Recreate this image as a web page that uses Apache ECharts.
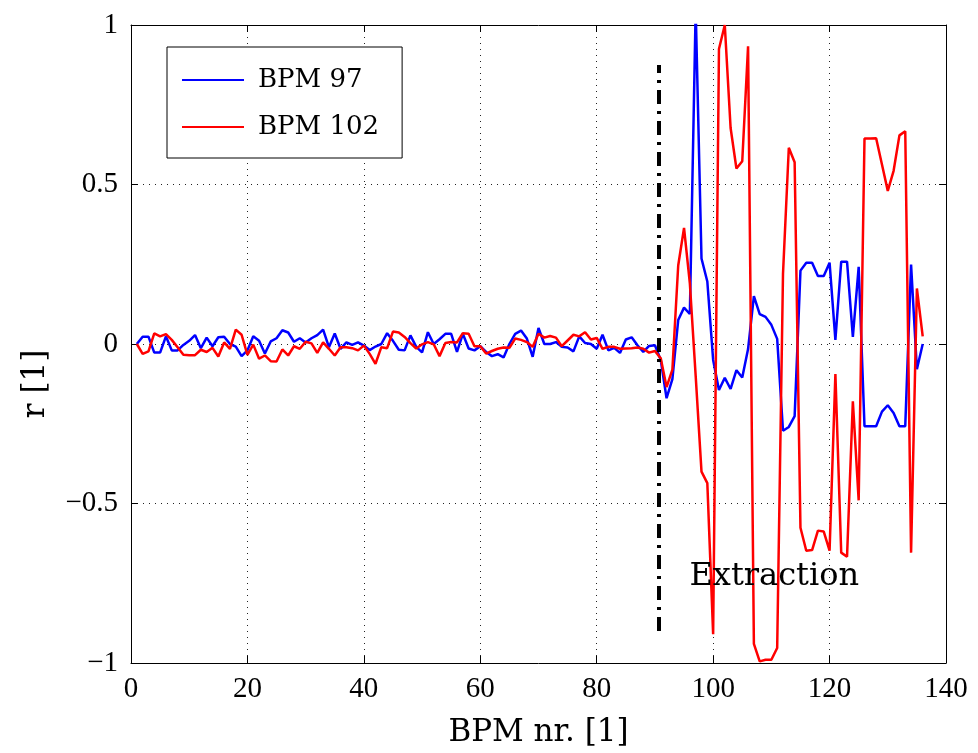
<!DOCTYPE html>
<html>
<head>
<meta charset="utf-8">
<script src="https://cdn.jsdelivr.net/npm/echarts@6/dist/echarts.min.js"></script>
<style>
html,body{margin:0;padding:0;background:#fff;overflow:hidden;}
#chart{width:978px;height:753px;}
</style>
</head>
<body>
<div id="chart"></div>
<script>
// BPM numbers 1..136
const bpmCount = 136;

const bpm97 = [
 0, 0.023, 0.023, -0.027, -0.027, 0.024, -0.02, -0.02, -0.003, 0.01,
 0.028, -0.013, 0.02, -0.007, 0.021, 0.023, 0, -0.008, -0.038, -0.02,
 0.024, 0.01, -0.03, 0.008, 0.018, 0.043, 0.036, 0.007, 0.018, 0.005,
 0.018, 0.028, 0.045, -0.01, 0.033, -0.015, 0.005, -0.003, 0.005, -0.005,
 -0.019, -0.008, 0, 0.034, 0.01, -0.018, -0.02, 0.027, -0.009, -0.026,
 0.037, 0, 0.015, 0.032, 0.032, -0.025, 0.032, -0.014, -0.02, -0.007,
 -0.025, -0.038, -0.032, -0.042, 0, 0.032, 0.042, 0.017, -0.04, 0.05,
 0, 0, 0.006, -0.009, -0.011, -0.023, 0.024, 0.003, 0, -0.015,
 0.029, -0.02, -0.012, -0.028, 0.014, 0.021, -0.004, -0.025, -0.006, -0.004,
 -0.05, -0.17, -0.11, 0.075, 0.114, 0.094, 1.05, 0.268, 0.196, -0.05,
 -0.144, -0.106, -0.141, -0.082, -0.105, -0.016, 0.15, 0.094, 0.085, 0.06,
 0.016, -0.272, -0.26, -0.226, 0.23, 0.255, 0.255, 0.213, 0.213, 0.255,
 0.013, 0.258, 0.258, 0.022, 0.242, -0.258, -0.258, -0.258, -0.212, -0.192,
 -0.216, -0.258, -0.258, 0.249, -0.079, 0
];

const bpm102 = [
 0, -0.031, -0.023, 0.033, 0.024, 0.031, 0.013, -0.01, -0.034, -0.035,
 -0.035, -0.018, -0.025, -0.012, -0.039, 0.005, -0.015, 0.045, 0.029, -0.034,
 -0.002, -0.046, -0.036, -0.054, -0.055, -0.017, -0.036, -0.007, -0.015, 0.007,
 0.002, -0.028, 0.005, -0.015, -0.036, -0.01, -0.01, -0.013, -0.02, -0.005,
 -0.031, -0.062, -0.01, -0.013, 0.039, 0.036, 0.022, 0.003, -0.014, -0.001,
 0.006, -0.001, -0.038, 0.003, 0.006, 0.005, 0.034, 0.032, -0.007, -0.007,
 -0.03, -0.022, -0.015, -0.011, -0.012, 0.017, 0.013, 0.006, -0.009, 0.032,
 0.02, 0.025, 0.02, -0.007, 0.011, 0.029, 0.024, 0.037, 0.014, 0.019,
 -0.015, -0.009, -0.009, -0.015, -0.014, -0.013, -0.011, -0.015, -0.027, -0.022,
 -0.045, -0.135, -0.08, 0.246, 0.364, 0.19, -0.1, -0.4, -0.436, -0.91,
 0.925, 1.0, 0.677, 0.55, 0.573, 0.933, -0.94, -0.995, -0.99, -0.99,
 -0.953, 0.22, 0.615, 0.57, -0.576, -0.648, -0.646, -0.585, -0.588, -0.648,
 -0.094, -0.654, -0.667, -0.18, -0.49, 0.644, 0.644, 0.645, 0.563, 0.48,
 0.543, 0.654, 0.667, -0.654, 0.174, 0.024
];

const xTicks = [0, 20, 40, 60, 80, 100, 120, 140];
const yTicks = [-1, -0.5, 0, 0.5, 1];

const extractionX = 90.6;
const extractionRange = [-0.9, 0.875];
const extractionLabel = { x: 110.5, y: -0.73, text: 'Extraction' };

const seriesNames = ['BPM 97', 'BPM 102'];

function pairs(arr) {
  return arr.map((v, i) => [i + 1, v]);
}

const tickFont = 'Liberation Serif';
const labelFont = 'DejaVu Serif';

const chart = echarts.init(document.getElementById('chart'), null, { renderer: 'canvas', width: 978, height: 753 });

const option = {
  animation: false,
  backgroundColor: '#fff',
  grid: { left: 131, width: 815, top: 25, height: 645, show: false },
  legend: {
    data: seriesNames,
    orient: 'vertical',
    left: 167,
    top: 47,
    backgroundColor: '#fff',
    borderColor: '#000',
    borderWidth: 1,
    borderRadius: 0,
    padding: [20, 23, 18, 14],
    itemWidth: 62,
    itemHeight: 20,
    itemGap: 21,
    itemStyle: { opacity: 0 },
    textStyle: { fontFamily: labelFont, fontSize: 26, color: '#000', padding: [0, 0, 0, 9] }
  },
  xAxis: [
    {
      type: 'value', min: 0, max: 140, interval: 20,
      axisLine: { show: true, onZero: false, lineStyle: { color: '#000', width: 1 } },
      axisTick: { show: true, inside: true, length: 7, lineStyle: { color: '#000' } },
      axisLabel: { fontFamily: tickFont, fontSize: 29, color: '#000', margin: 12 },
      splitLine: { show: true, lineStyle: { color: '#222', width: 1, type: [1, 5] } },
      name: 'BPM nr. [1]', nameLocation: 'middle', nameGap: 54,
      nameTextStyle: { fontFamily: labelFont, fontSize: 31, color: '#000' }
    },
    {
      type: 'value', min: 0, max: 140, interval: 20, position: 'top',
      axisLine: { show: true, onZero: false, lineStyle: { color: '#000', width: 1 } },
      axisTick: { show: true, inside: true, length: 7, lineStyle: { color: '#000' } },
      axisLabel: { show: false }, splitLine: { show: false }
    }
  ],
  yAxis: [
    {
      type: 'value', min: -1, max: 1, interval: 0.5,
      axisLine: { show: true, onZero: false, lineStyle: { color: '#000', width: 1 } },
      axisTick: { show: true, inside: true, length: 7, lineStyle: { color: '#000' } },
      axisLabel: {
        fontFamily: tickFont, fontSize: 29, color: '#000', margin: 13,
        formatter: v => (yTicks.indexOf(v) >= 0 ? String(v).replace('-', '\u2212') : '')
      },
      splitLine: { show: true, lineStyle: { color: '#222', width: 1, type: [1, 5] } },
      name: 'r [1]', nameLocation: 'middle', nameGap: 80, nameRotate: 90,
      nameTextStyle: { fontFamily: labelFont, fontSize: 31, color: '#000', padding: [0, 80, 0, 0] }
    },
    {
      type: 'value', min: -1, max: 1, interval: 0.5, position: 'right',
      axisLine: { show: true, onZero: false, lineStyle: { color: '#000', width: 1 } },
      axisTick: { show: true, inside: true, length: 7, lineStyle: { color: '#000' } },
      axisLabel: { show: false }, splitLine: { show: false }
    }
  ],
  series: [
    {
      name: seriesNames[0], type: 'line', data: pairs(bpm97),
      symbol: 'none', clip: true,
      lineStyle: { color: '#0000ff', width: 2.5 }, itemStyle: { color: '#0000ff' },
      z: 3
    },
    {
      name: seriesNames[1], type: 'line', data: pairs(bpm102),
      symbol: 'none', clip: true,
      lineStyle: { color: '#ff0000', width: 2.5 }, itemStyle: { color: '#ff0000' },
      z: 4,
      markLine: {
        silent: true, symbol: ['none', 'none'],
        label: { show: false },
        lineStyle: { color: '#000', width: 4, type: [14, 7, 3, 7] },
        data: [[{ coord: [extractionX, extractionRange[0]] }, { coord: [extractionX, extractionRange[1]] }]]
      },
      markPoint: {
        silent: true, symbol: 'circle', symbolSize: 0,
        label: {
          show: true, position: 'inside', formatter: extractionLabel.text,
          fontFamily: labelFont, fontSize: 32, color: '#000'
        },
        data: [{ coord: [extractionLabel.x, extractionLabel.y] }]
      }
    }
  ]
};

chart.setOption(option);
</script>
</body>
</html>
